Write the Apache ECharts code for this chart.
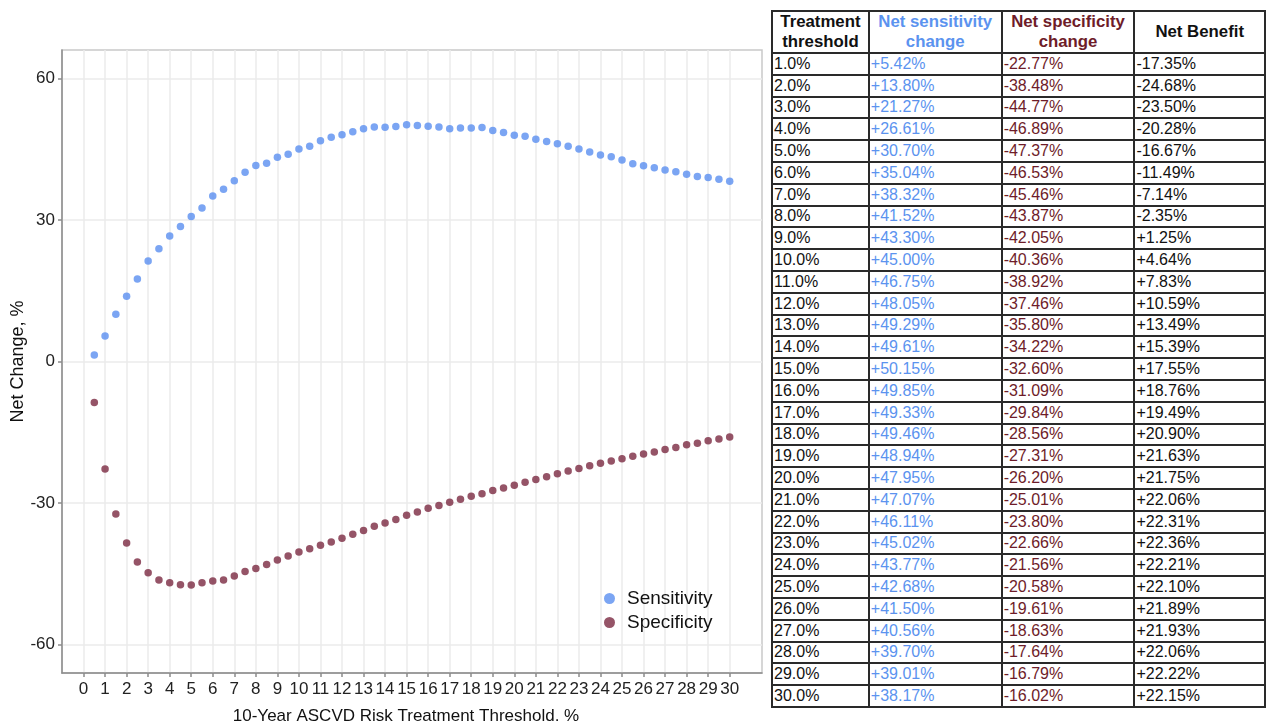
<!DOCTYPE html>
<html>
<head>
<meta charset="utf-8">
<script src="https://cdn.jsdelivr.net/npm/echarts@6/dist/echarts.min.js"></script>
<style>
  html, body { margin: 0; padding: 0; background: #ffffff; }
  #chart { position: absolute; left: 0; top: 0; width: 1266px; height: 721px; }
  #tbl {
    position: absolute; left: 771px; top: 10px;
    border-collapse: collapse; table-layout: fixed;
    font-family: "Liberation Sans", Arial, Helvetica, sans-serif;
    background: #fff;
  }
  #tbl th, #tbl td { border: 2px solid #2a2a2a; padding: 0 0 0 1px; overflow: hidden; white-space: nowrap; }
  #tbl th { font-weight: bold; font-size: 16.8px; line-height: 20px; text-align: center; height: 40px; padding: 0; color: #111; }
  #tbl td { font-size: 16px; height: 19.8px; line-height: 18px; text-align: left; color: #111; }
  #tbl .c-sens { color: #5b93ef; }
  #tbl .c-spec { color: #6e1c29; }
</style>
</head>
<body>
<div id="chart"></div>
<table id="tbl"></table>
<script>
// ---------------- data ----------------
const thresholds = [0.5, 1, 1.5, 2, 2.5, 3, 3.5, 4, 4.5, 5, 5.5, 6, 6.5, 7, 7.5, 8, 8.5, 9, 9.5, 10,
  10.5, 11, 11.5, 12, 12.5, 13, 13.5, 14, 14.5, 15, 15.5, 16, 16.5, 17, 17.5, 18, 18.5, 19, 19.5, 20,
  20.5, 21, 21.5, 22, 22.5, 23, 23.5, 24, 24.5, 25, 25.5, 26, 26.5, 27, 27.5, 28, 28.5, 29, 29.5, 30];

const sensitivity = [1.4, 5.42, 10.0, 13.80, 17.5, 21.27, 23.9, 26.61, 28.6, 30.70, 32.5, 35.04, 36.5, 38.32, 40.1, 41.52, 42.0, 43.30, 43.9, 45.00,
  45.6, 46.75, 47.5, 48.05, 48.7, 49.29, 49.7, 49.61, 49.8, 50.15, 50.0, 49.85, 49.7, 49.33, 49.5, 49.46, 49.6, 48.94, 48.5, 47.95,
  47.7, 47.07, 46.6, 46.11, 45.6, 45.02, 44.4, 43.77, 43.4, 42.68, 41.9, 41.50, 41.05, 40.56, 40.2, 39.70, 39.2, 39.01, 38.6, 38.17];

const specificity = [-8.7, -22.77, -32.3, -38.48, -42.5, -44.77, -46.3, -46.89, -47.3, -47.37, -46.9, -46.53, -46.3, -45.46, -44.5, -43.87, -43.0, -42.05, -41.2, -40.36,
  -39.7, -38.92, -38.25, -37.46, -36.6, -35.80, -34.9, -34.22, -33.5, -32.60, -31.9, -31.09, -30.5, -29.84, -29.2, -28.56, -28.0, -27.31, -26.8, -26.20,
  -25.6, -25.01, -24.4, -23.80, -23.2, -22.66, -22.1, -21.56, -21.1, -20.58, -20.1, -19.61, -19.2, -18.63, -18.2, -17.64, -17.3, -16.79, -16.4, -16.02];

const xTicks = [0, 1, 2, 3, 4, 5, 6, 7, 8, 9, 10, 11, 12, 13, 14, 15, 16, 17, 18, 19, 20, 21, 22, 23, 24, 25, 26, 27, 28, 29, 30];
const yTicks = [-60, -30, 0, 30, 60];

const tableHeaders = ["Treatment threshold", "Net sensitivity change", "Net specificity change", "Net Benefit"];
const tableThreshold = ["1.0%", "2.0%", "3.0%", "4.0%", "5.0%", "6.0%", "7.0%", "8.0%", "9.0%", "10.0%",
  "11.0%", "12.0%", "13.0%", "14.0%", "15.0%", "16.0%", "17.0%", "18.0%", "19.0%", "20.0%",
  "21.0%", "22.0%", "23.0%", "24.0%", "25.0%", "26.0%", "27.0%", "28.0%", "29.0%", "30.0%"];
const tableSens = ["+5.42%", "+13.80%", "+21.27%", "+26.61%", "+30.70%", "+35.04%", "+38.32%", "+41.52%", "+43.30%", "+45.00%",
  "+46.75%", "+48.05%", "+49.29%", "+49.61%", "+50.15%", "+49.85%", "+49.33%", "+49.46%", "+48.94%", "+47.95%",
  "+47.07%", "+46.11%", "+45.02%", "+43.77%", "+42.68%", "+41.50%", "+40.56%", "+39.70%", "+39.01%", "+38.17%"];
const tableSpec = ["-22.77%", "-38.48%", "-44.77%", "-46.89%", "-47.37%", "-46.53%", "-45.46%", "-43.87%", "-42.05%", "-40.36%",
  "-38.92%", "-37.46%", "-35.80%", "-34.22%", "-32.60%", "-31.09%", "-29.84%", "-28.56%", "-27.31%", "-26.20%",
  "-25.01%", "-23.80%", "-22.66%", "-21.56%", "-20.58%", "-19.61%", "-18.63%", "-17.64%", "-16.79%", "-16.02%"];
const tableNet = ["-17.35%", "-24.68%", "-23.50%", "-20.28%", "-16.67%", "-11.49%", "-7.14%", "-2.35%", "+1.25%", "+4.64%",
  "+7.83%", "+10.59%", "+13.49%", "+15.39%", "+17.55%", "+18.76%", "+19.49%", "+20.90%", "+21.63%", "+21.75%",
  "+22.06%", "+22.31%", "+22.36%", "+22.21%", "+22.10%", "+21.89%", "+21.93%", "+22.06%", "+22.22%", "+22.15%"];

// ---------------- table ----------------
(function buildTable() {
  const tbl = document.getElementById('tbl');
  const widths = [97, 133, 133, 131];
  const cg = document.createElement('colgroup');
  widths.forEach(w => { const c = document.createElement('col'); c.style.width = w + 'px'; cg.appendChild(c); });
  tbl.appendChild(cg);
  const hr = document.createElement('tr');
  const hcls = ['', 'c-sens', 'c-spec', ''];
  const hHtml = ["Treatment<br>threshold", "Net sensitivity<br>change", "Net specificity<br>change", "Net Benefit"];
  hHtml.forEach((h, i) => {
    const th = document.createElement('th');
    th.innerHTML = h;
    th.title = tableHeaders[i];
    if (hcls[i]) th.className = hcls[i];
    hr.appendChild(th);
  });
  tbl.appendChild(hr);
  for (let r = 0; r < tableThreshold.length; r++) {
    const tr = document.createElement('tr');
    [[tableThreshold[r], ''], [tableSens[r], 'c-sens'], [tableSpec[r], 'c-spec'], [tableNet[r], '']].forEach(([v, cls]) => {
      const td = document.createElement('td');
      td.textContent = v;
      if (cls) td.className = cls;
      tr.appendChild(td);
    });
    tbl.appendChild(tr);
  }
})();

// ---------------- chart ----------------
const FONT = '"Liberation Sans", Arial, Helvetica, sans-serif';
const SENS_COLOR = '#5a8ef0';
const SPEC_COLOR = '#7a2941';

const chart = echarts.init(document.getElementById('chart'), null, { renderer: 'canvas' });
chart.setOption({
  animation: false,
  textStyle: { fontFamily: FONT },
  grid: {
    left: 62, top: 50, right: 504, bottom: 48,
    outerBoundsMode: 'none',
    containLabel: false,
    show: true, borderColor: '#c9c9c9', borderWidth: 1.5, backgroundColor: 'transparent'
  },
  legend: {
    orient: 'vertical',
    left: 599, top: 584,
    itemWidth: 11, itemHeight: 11, itemGap: 5,
    icon: 'circle',
    data: ['Sensitivity', 'Specificity'],
    textStyle: { fontSize: 19, color: '#111', fontFamily: FONT, padding: [0, 0, 0, 7] },
    selectedMode: false
  },
  xAxis: {
    type: 'value',
    min: -1, max: 31.5,
    name: '10-Year ASCVD Risk Treatment Threshold, %',
    nameLocation: 'middle',
    nameGap: 35,
    nameTextStyle: { fontSize: 17, color: '#111', fontFamily: FONT, padding: [0, 12, 0, 0] },
    axisLine: { show: true, onZero: false, lineStyle: { color: '#8c8c8c', width: 1.5 } },
    axisTick: { show: true, length: 4, customValues: xTicks, lineStyle: { color: '#8c8c8c', width: 1.5 } },
    axisLabel: { customValues: xTicks, fontSize: 17, color: '#222', margin: 8, fontFamily: FONT },
    splitLine: { show: true, lineStyle: { color: '#ebebeb', width: 1.5 } }
  },
  yAxis: {
    type: 'value',
    min: -66, max: 66,
    name: 'Net Change, %',
    nameLocation: 'middle',
    nameGap: 35,
    nameMoveOverlap: false,
    nameTextStyle: { fontSize: 18, color: '#111', fontFamily: FONT },
    axisLine: { show: true, onZero: false, lineStyle: { color: '#8c8c8c', width: 1.5 } },
    axisTick: { show: true, length: 4, customValues: yTicks, lineStyle: { color: '#8c8c8c', width: 1.5 } },
    axisLabel: { customValues: yTicks, fontSize: 17, color: '#222', margin: 7, fontFamily: FONT },
    splitLine: { show: true, lineStyle: { color: '#ebebeb', width: 1.5 } }
  },
  series: [
    {
      name: 'Sensitivity', type: 'scatter', symbolSize: 7.5,
      itemStyle: { color: SENS_COLOR },
      data: thresholds.map((t, i) => [t, sensitivity[i]])
    },
    {
      name: 'Specificity', type: 'scatter', symbolSize: 7.5,
      itemStyle: { color: SPEC_COLOR },
      data: thresholds.map((t, i) => [t, specificity[i]])
    }
  ]
});
</script>
</body>
</html>
